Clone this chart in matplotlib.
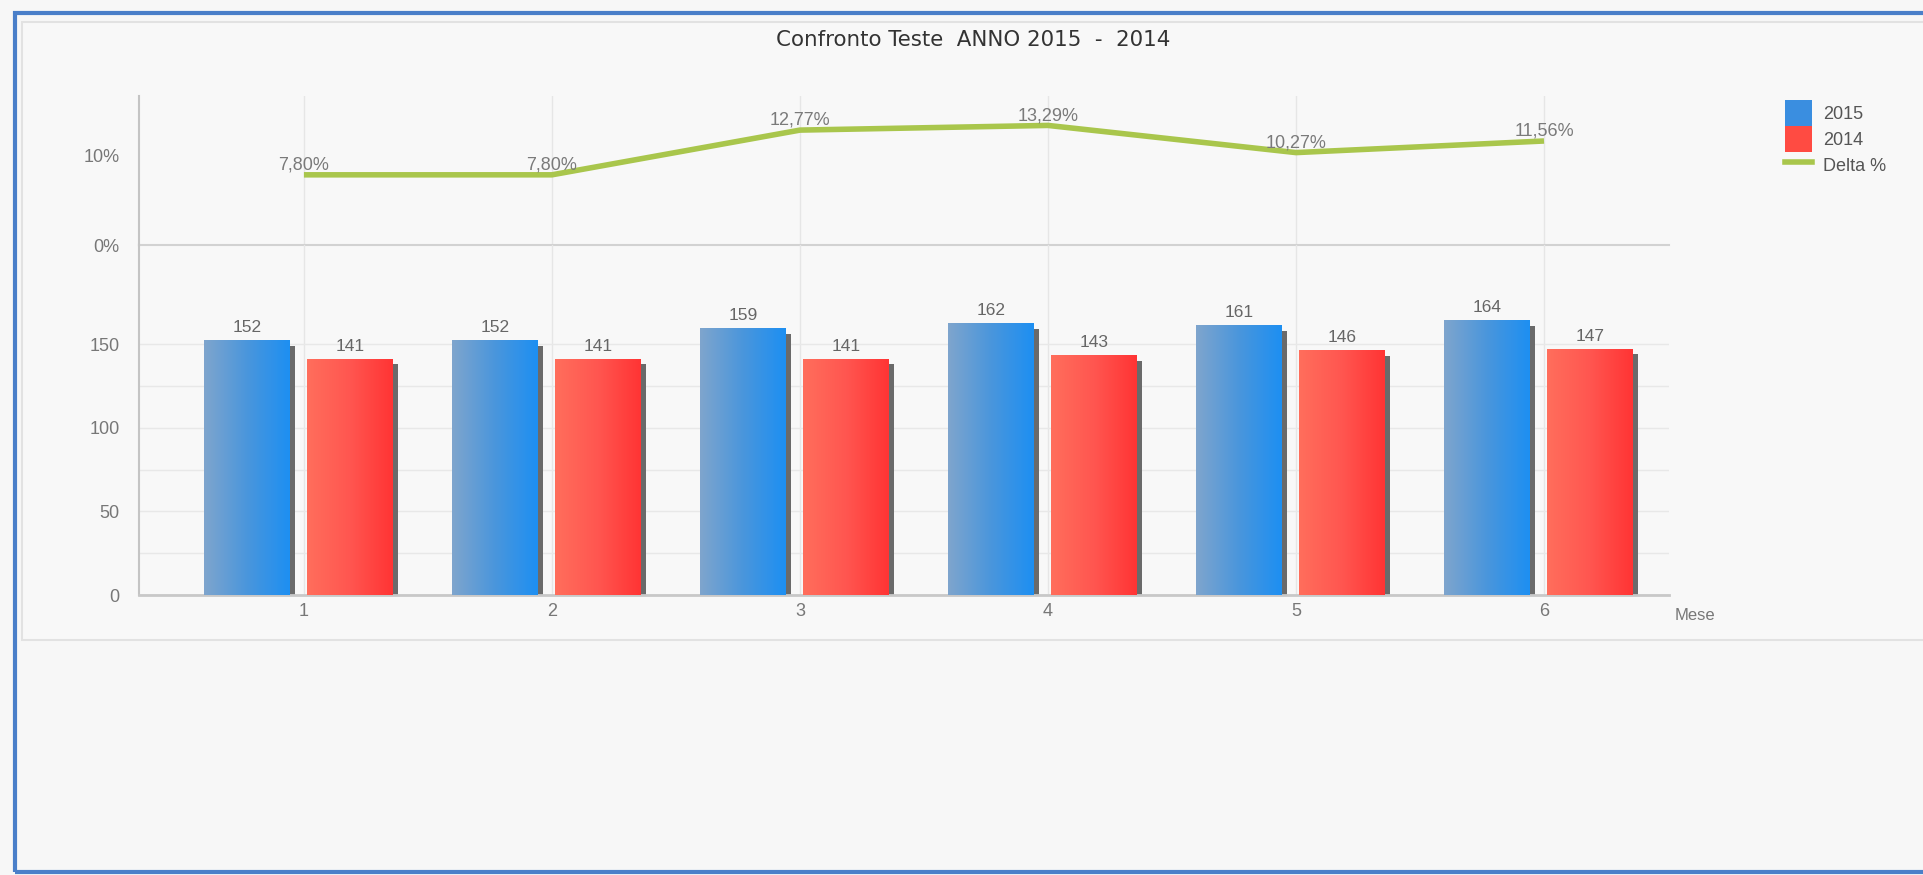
import numpy as np
import matplotlib
matplotlib.use('Agg')
import matplotlib.pyplot as plt
from matplotlib.colors import LinearSegmentedColormap
from matplotlib.patches import Patch, Rectangle
from matplotlib.lines import Line2D

# dati
mesi = [1, 2, 3, 4, 5, 6]
teste_2015 = [152, 152, 159, 162, 161, 164]
teste_2014 = [141, 141, 141, 143, 146, 147]
delta_pct = [7.80, 7.80, 12.77, 13.29, 10.27, 11.56]

titolo = 'Confronto Teste  ANNO 2015  -  2014'
x_label = 'Mese'

plt.rcParams['font.family'] = ['Liberation Sans', 'DejaVu Sans']

W, H = 1924, 875
fig = plt.figure(figsize=(W / 100, H / 100), dpi=100, facecolor='#f7f7f7')

# cornice esterna e pannello interno
fig.add_artist(Rectangle((22 / W, 1 - 640 / H), 1.0, (640 - 22) / H, transform=fig.transFigure,
                         facecolor='#f8f8f8', edgecolor='#e2e2e2', lw=1.5, zorder=0))
fig.add_artist(Rectangle((15 / W, 1 - 872 / H), 1.0, (872 - 13) / H, transform=fig.transFigure,
                         facecolor='none', edgecolor='#4a7fc9', lw=3, zorder=1))

left, right = 139 / W, 1669 / W
ax_top = fig.add_axes([left, 1 - 245 / H, right - left, (245 - 96) / H])
ax_bot = fig.add_axes([left, 1 - 595 / H, right - left, (595 - 245) / H])

x = np.array(mesi, dtype=float)
xlim = (0.335, 6.504)
tick_col = '#777777'

# --- parte superiore: delta %
ax_top.plot(x, delta_pct, color='#a9c64c', lw=4, solid_capstyle='butt', zorder=3)
for xi, v in zip(x, delta_pct):
    ax_top.annotate(f'{v:.2f}%'.replace('.', ','), (xi, v), xytext=(0, 1), textcoords='offset points',
                    ha='center', va='bottom', fontsize=13, color='#7a7a7a', zorder=4)
ax_top.set_xlim(*xlim)
ax_top.set_ylim(0, 16.56)
ax_top.set_yticks([0, 10])
ax_top.set_yticklabels(['0%', '10%'])
ax_top.set_xticks(x)
ax_top.set_xticklabels([])
ax_top.grid(axis='x', color='#e6e6e6', lw=1)
ax_top.set_axisbelow(True)

# --- parte inferiore: barre
w = 0.345
off_b, off_r = -0.23, 0.185
sh_dx, sh_dy = 0.02, 3

ax_bot.bar(x + off_b + sh_dx, np.array(teste_2015) - sh_dy, width=w, color='#6a6a6a', zorder=2)
ax_bot.bar(x + off_r + sh_dx, np.array(teste_2014) - sh_dy, width=w, color='#6a6a6a', zorder=2)
bars_b = ax_bot.bar(x + off_b, teste_2015, width=w, color='#3a8ee0', zorder=3)
bars_r = ax_bot.bar(x + off_r, teste_2014, width=w, color='#ff4b42', zorder=3)

cmap_b = LinearSegmentedColormap.from_list('b', ['#7fa5cd', '#4a96dc', '#1d8ff2'])
cmap_r = LinearSegmentedColormap.from_list('r', ['#ff6e5c', '#ff5650', '#ff3434'])
grad = np.linspace(0, 1, 256).reshape(1, -1)
for bars, cm in ((bars_b, cmap_b), (bars_r, cmap_r)):
    for p in bars:
        x0, h = p.get_x(), p.get_height()
        ax_bot.imshow(grad, cmap=cm, extent=[x0, x0 + p.get_width(), 0, h],
                      aspect='auto', zorder=4, interpolation='bilinear')
        ax_bot.annotate(f'{int(h)}', (x0 + p.get_width() / 2, h), xytext=(0, 4),
                        textcoords='offset points', ha='center', va='bottom',
                        fontsize=12.5, color='#666666', zorder=5)

ax_bot.set_xlim(*xlim)
ax_bot.set_ylim(0, 209.2)
ax_bot.set_yticks([0, 50, 100, 150])
ax_bot.set_yticks([25, 75, 125], minor=True)
ax_bot.set_xticks(x)
ax_bot.set_xticklabels([str(m) for m in mesi])
ax_bot.grid(axis='y', which='both', color='#e8e8e8', lw=1)
ax_bot.grid(axis='x', color='#e6e6e6', lw=1)
ax_bot.set_axisbelow(True)
ax_bot.text(1.004, -0.037, x_label, transform=ax_bot.transAxes, ha='left', va='top',
            fontsize=12, color=tick_col)

for ax in (ax_top, ax_bot):
    ax.set_facecolor('none')
    for s in ('top', 'right'):
        ax.spines[s].set_visible(False)
    ax.spines['left'].set_color('#c4c4c4')
    ax.spines['left'].set_linewidth(1.5)
    ax.tick_params(which='both', length=0, labelsize=13, labelcolor=tick_col)
    ax.tick_params(axis='y', pad=14)
ax_top.spines['bottom'].set_color('#d2d2d2')
ax_top.spines['bottom'].set_linewidth(1.5)
ax_bot.spines['bottom'].set_color('#c8c8c8')
ax_bot.spines['bottom'].set_linewidth(2)
ax_bot.tick_params(axis='x', pad=6)

# titolo
fig.text(973 / W, 1 - 40 / H, titolo, ha='center', va='center', fontsize=15.4,
         color='#333333', family=['DejaVu Sans'])

# legenda
handles = [Patch(facecolor='#3a8ee0', edgecolor='none'),
           Patch(facecolor='#ff4b42', edgecolor='none'),
           Line2D([], [], color='#a9c64c', lw=4)]
fig.legend(handles, ['2015', '2014', 'Delta %'], loc='upper left',
           bbox_to_anchor=(1785 / W, 1 - 100 / H), frameon=False, fontsize=13,
           labelspacing=0.0, handlelength=1.5, handleheight=1.85, handletextpad=0.6,
           borderpad=0, borderaxespad=0, labelcolor='#555555')

fig.savefig('out.png', dpi=100, facecolor=fig.get_facecolor())
